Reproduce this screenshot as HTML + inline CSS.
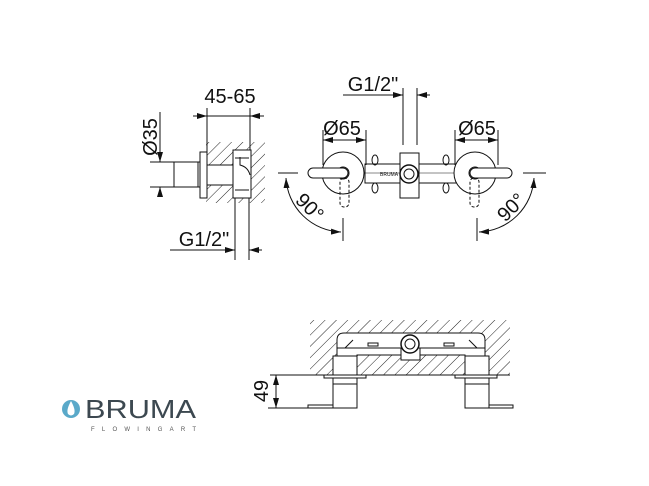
<!DOCTYPE html>
<html><head><meta charset="utf-8"><style>html,body{margin:0;padding:0;background:#fff}svg{display:block}</style></head><body>
<svg width="649" height="486" viewBox="0 0 649 486" xmlns="http://www.w3.org/2000/svg" font-family="Liberation Sans, sans-serif">
<defs>
<pattern id="h" width="8" height="8" patternUnits="userSpaceOnUse" patternTransform="rotate(45)">
<line x1="0" y1="0" x2="0" y2="8" stroke="#222" stroke-width="1"/>
</pattern>
<marker id="a" viewBox="0 0 10 6" refX="10" refY="3" markerWidth="10" markerHeight="6" orient="auto-start-reverse" markerUnits="userSpaceOnUse"><path d="M0,0L10,3L0,6z" fill="#111"/></marker>
</defs>
<g stroke="#111" stroke-width="1" fill="none">
<!-- LEFT SIDE VIEW -->
<rect x="206" y="142" width="59" height="61" fill="url(#h)" stroke="none"/>
<rect x="233" y="150" width="18" height="48" fill="#fff"/>
<path d="M235 158h14M235 190h14"/>
<rect x="200" y="152" width="7" height="46" fill="#fff"/>
<rect x="174" y="162" width="26" height="25" fill="#fff"/>
<line x1="198" y1="162" x2="198" y2="187"/>
<rect x="207" y="165" width="26" height="20" fill="#fff"/>
<path d="M240 157 v8 q8 2 10 10" />
<line x1="235" y1="198" x2="235" y2="260"/><line x1="249" y1="198" x2="249" y2="260"/>
<line x1="207" y1="108" x2="207" y2="152"/><line x1="250" y1="108" x2="250" y2="150"/>
<line x1="193" y1="116" x2="207" y2="116" marker-end="url(#a)"/>
<line x1="207" y1="116" x2="250" y2="116"/>
<line x1="264" y1="116" x2="250" y2="116" marker-end="url(#a)"/>
<line x1="160" y1="112" x2="160" y2="162" marker-end="url(#a)"/>
<line x1="160" y1="197" x2="160" y2="187" marker-end="url(#a)"/>
<line x1="150" y1="162" x2="174" y2="162"/><line x1="150" y1="187" x2="174" y2="187"/>
<line x1="170" y1="250" x2="235" y2="250" marker-end="url(#a)"/>
<line x1="262" y1="250" x2="249" y2="250" marker-end="url(#a)"/>
<!-- TOP VIEW -->
<line x1="403" y1="88" x2="403" y2="145"/><line x1="417" y1="88" x2="417" y2="145"/>
<line x1="343" y1="95" x2="403" y2="95" marker-end="url(#a)"/>
<line x1="430" y1="95" x2="417" y2="95" marker-end="url(#a)"/>
<rect x="365" y="164" width="92" height="19" fill="#fff"/>
<line x1="365" y1="173" x2="457" y2="173" stroke-width="0.5"/>
<ellipse cx="375" cy="160" rx="3" ry="5"/><ellipse cx="375" cy="188" rx="3" ry="5"/>
<ellipse cx="446" cy="160" rx="3" ry="5"/><ellipse cx="446" cy="188" rx="3" ry="5"/>
<rect x="400" y="153" width="19" height="45" fill="#fff"/>
<circle cx="409" cy="174" r="9" fill="#fff" stroke-width="1.5"/><circle cx="409" cy="174" r="5"/>
<circle cx="343" cy="173" r="21" fill="#fff"/><circle cx="475" cy="173" r="21" fill="#fff"/>
<circle cx="343" cy="173" r="6"/><circle cx="475" cy="173" r="6"/>
<rect x="308" y="168" width="40" height="10" rx="5" fill="#fff"/>
<rect x="470" y="168" width="42" height="10" rx="5" fill="#fff"/>
<rect x="340" y="178" width="9" height="29" rx="4" stroke-dasharray="3,2"/>
<rect x="470" y="178" width="9" height="29" rx="4" stroke-dasharray="3,2"/>
<line x1="323" y1="130" x2="323" y2="165"/><line x1="366" y1="130" x2="366" y2="165"/>
<line x1="323" y1="140" x2="366" y2="140" marker-start="url(#a)" marker-end="url(#a)"/>
<line x1="455" y1="130" x2="455" y2="165"/><line x1="498" y1="130" x2="498" y2="165"/>
<line x1="455" y1="140" x2="498" y2="140" marker-start="url(#a)" marker-end="url(#a)"/>
<line x1="278" y1="173" x2="298" y2="173"/><line x1="343" y1="218" x2="343" y2="241"/>
<path d="M286 178 A57 57 0 0 0 341 232" marker-start="url(#a)" marker-end="url(#a)"/>
<line x1="523" y1="173" x2="546" y2="173"/><line x1="477" y1="218" x2="477" y2="241"/>
<path d="M534 178 A57 57 0 0 1 479 232" marker-start="url(#a)" marker-end="url(#a)"/>
<!-- BOTTOM VIEW -->
<rect x="310" y="320" width="200" height="55" fill="url(#h)" stroke="none"/>
<path d="M337 375 V340 Q337 333 344 333 H478 Q485 333 485 340 V375 H465 V355 H357 V375 Z" fill="#fff"/>
<path d="M337 348 H485"/>
<path d="M345 348 l8 -8 M477 348 l-8 -8"/>
<rect x="368" y="343" width="10" height="3"/><rect x="444" y="343" width="10" height="3"/>
<rect x="401" y="348" width="19" height="12" fill="#fff"/>
<circle cx="410" cy="344" r="9" fill="#fff" stroke-width="1.5"/><circle cx="410" cy="344" r="5"/>
<rect x="333" y="356" width="24" height="19" fill="#fff"/><rect x="465" y="356" width="24" height="19" fill="#fff"/>
<line x1="270" y1="375" x2="510" y2="375"/>
<rect x="324" y="375" width="42" height="3" fill="#fff"/><rect x="455" y="375" width="42" height="3" fill="#fff"/>
<rect x="333" y="378" width="24" height="30" fill="#fff"/><rect x="465" y="378" width="24" height="30" fill="#fff"/>
<line x1="333" y1="384" x2="357" y2="384"/><line x1="465" y1="384" x2="489" y2="384"/>
<rect x="308" y="405" width="25" height="3"/><rect x="489" y="405" width="24" height="3"/>
<line x1="268" y1="408" x2="308" y2="408"/>
<line x1="276" y1="392" x2="276" y2="375" marker-end="url(#a)"/>
<line x1="276" y1="392" x2="276" y2="408" marker-end="url(#a)"/>
</g>
<g fill="#111" font-size="20">
<text x="230" y="103" text-anchor="middle">45-65</text>
<text transform="translate(157,137) rotate(-90)" text-anchor="middle">Ø35</text>
<text x="204" y="246" text-anchor="middle">G1/2"</text>
<text x="373" y="91" text-anchor="middle">G1/2"</text>
<text x="342" y="135" text-anchor="middle">Ø65</text>
<text x="477" y="135" text-anchor="middle">Ø65</text>
<text transform="translate(305,212) rotate(45)" text-anchor="middle">90°</text>
<text transform="translate(516,212) rotate(-45)" text-anchor="middle">90°</text>
<text transform="translate(268,391) rotate(-90)" text-anchor="middle">49</text>
<text x="380" y="176" font-size="5">BRUMA</text>
</g>
<circle cx="71" cy="409" r="9" fill="#5aa9c9"/>
<path d="M71 401 Q66 410 68 414 Q71 417 74 414 Q76 410 71 401z" fill="#fff"/>
<text x="85" y="418" font-size="26" fill="#3c4850" textLength="111" lengthAdjust="spacingAndGlyphs">BRUMA</text>
<text x="91" y="431" font-size="6" fill="#555" textLength="105">FLOWINGART</text>
</svg>
</body></html>
